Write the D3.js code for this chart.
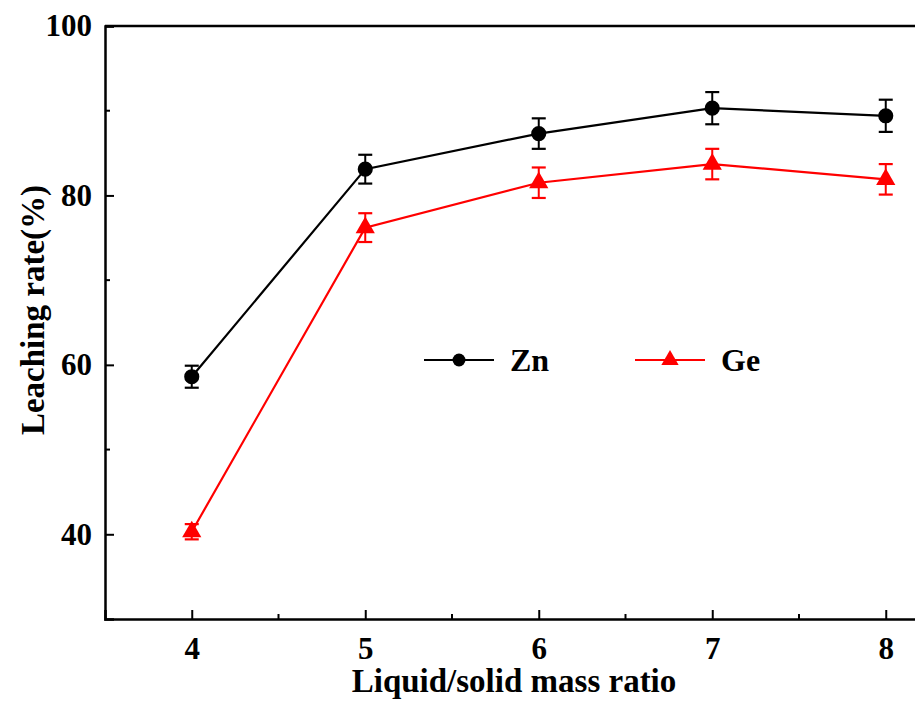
<!DOCTYPE html>
<html>
<head>
<meta charset="utf-8">
<script src="https://cdn.jsdelivr.net/npm/d3@7"></script>
<style>
  body { margin: 0; background: #fff; }
  svg { display: block; }
</style>
</head>
<body>
<div id="chart"></div>
<script>
// data
var ratios = [4, 5, 6, 7, 8];
var znRate = [58.6, 83.1, 87.3, 90.3, 89.4];
var znErr  = [1.3, 1.7, 1.8, 1.9, 1.9];
var geRate = [40.3, 76.2, 81.5, 83.7, 81.9];
var geErr  = [0.9, 1.7, 1.8, 1.8, 1.8];
var yTicks = [40, 60, 80, 100];
var xTicks = [4, 5, 6, 7, 8];

var W = 915, H = 702;
var margin = {top: 26, left: 105, bottom: 82};
var FONT = "'Liberation Serif', 'Times New Roman', serif";

var svg = d3.select("#chart")
  .append("svg")
    .attr("width", W)
    .attr("height", H);

var x = d3.scaleLinear().domain([3.5, 8.5]).range([margin.left, margin.left + 5 * 173.5]);
var y = d3.scaleLinear().domain([30, 100]).range([H - margin.bottom - 1, margin.top]);

function styleText(sel, size) {
  sel.style("font-family", FONT)
    .style("font-weight", "bold")
    .style("font-size", size + "px")
    .attr("fill", "#000");
}

// frame (right side runs off the page)
svg.append("line")
  .attr("x1", x(3.5)).attr("x2", x(8.5))
  .attr("y1", y(100)).attr("y2", y(100))
  .attr("stroke", "#000").attr("stroke-width", 2.5);

// X axis, ticks pointing inward
var xAxis = svg.append("g")
  .attr("transform", "translate(0," + y(30) + ")")
  .call(d3.axisBottom(x).tickValues(xTicks).tickSize(-9).tickFormat(d3.format("d")));
xAxis.select(".domain").attr("stroke-width", 2.5);
xAxis.selectAll(".tick line").attr("stroke-width", 2);
xAxis.selectAll(".tick text")
  .attr("y", 18)
  .call(styleText, 31);
// minor x ticks
xAxis.selectAll(".minor")
  .data([4.5, 5.5, 6.5, 7.5])
  .enter()
  .append("line")
    .attr("x1", function(d) { return x(d); })
    .attr("x2", function(d) { return x(d); })
    .attr("y1", 0).attr("y2", -5)
    .attr("stroke", "#000").attr("stroke-width", 2);

// Y axis
var yAxis = svg.append("g")
  .attr("transform", "translate(" + x(3.5) + ",0)")
  .call(d3.axisLeft(y).tickValues(yTicks).tickSize(-9).tickPadding(13));
yAxis.select(".domain").attr("stroke-width", 2.5);
yAxis.selectAll(".tick line").attr("stroke-width", 2);
yAxis.selectAll(".tick text").call(styleText, 31);
yAxis.selectAll(".minor")
  .data([50, 70, 90])
  .enter()
  .append("line")
    .attr("y1", function(d) { return y(d); })
    .attr("y2", function(d) { return y(d); })
    .attr("x1", 0).attr("x2", 5)
    .attr("stroke", "#000").attr("stroke-width", 2);

// axis titles
svg.append("text")
  .attr("x", 514).attr("y", 692)
  .attr("text-anchor", "middle")
  .call(styleText, 33)
  .text("Liquid/solid mass ratio");

svg.append("text")
  .attr("transform", "translate(44,310)rotate(-90)")
  .attr("text-anchor", "middle")
  .call(styleText, 33)
  .text("Leaching rate(%)");

// series
var series = [
  {name: "Zn", values: znRate, err: znErr, color: "#000", shape: d3.symbolCircle, size: 180},
  {name: "Ge", values: geRate, err: geErr, color: "#f00", shape: d3.symbolTriangle, size: 160}
];

var line = d3.line()
  .x(function(d) { return x(d[0]); })
  .y(function(d) { return y(d[1]); });

series.forEach(function(s) {
  var pts = ratios.map(function(r, i) { return [r, s.values[i], s.err[i]]; });
  var g = svg.append("g");

  g.append("path")
    .attr("d", line(pts))
    .attr("fill", "none")
    .attr("stroke", s.color)
    .attr("stroke-width", 2.2);

  // error bars
  var eb = g.selectAll(".eb").data(pts).enter().append("g");
  eb.append("line")
    .attr("x1", function(d) { return x(d[0]); })
    .attr("x2", function(d) { return x(d[0]); })
    .attr("y1", function(d) { return y(d[1] - d[2]); })
    .attr("y2", function(d) { return y(d[1] + d[2]); })
    .attr("stroke", s.color).attr("stroke-width", 2);
  [-1, 1].forEach(function(sign) {
    eb.append("line")
      .attr("x1", function(d) { return x(d[0]) - 7; })
      .attr("x2", function(d) { return x(d[0]) + 7; })
      .attr("y1", function(d) { return y(d[1] + sign * d[2]); })
      .attr("y2", function(d) { return y(d[1] + sign * d[2]); })
      .attr("stroke", s.color).attr("stroke-width", 2.2);
  });

  g.selectAll(".pt").data(pts).enter()
    .append("path")
      .attr("transform", function(d) { return "translate(" + x(d[0]) + "," + y(d[1]) + ")"; })
      .attr("d", d3.symbol().type(s.shape).size(s.size))
      .attr("fill", s.color);
});

// legend
var legend = [
  {name: "Zn", color: "#000", shape: d3.symbolCircle, size: 130, x: 424},
  {name: "Ge", color: "#f00", shape: d3.symbolTriangle, size: 130, x: 635}
];
var lg = svg.selectAll(".legend").data(legend).enter().append("g")
  .attr("transform", function(d) { return "translate(" + d.x + ",360)"; });
lg.append("line")
  .attr("x1", 0).attr("x2", 70)
  .attr("stroke", function(d) { return d.color; })
  .attr("stroke-width", 2.2);
lg.append("path")
  .attr("transform", "translate(35,0)")
  .attr("d", function(d) { return d3.symbol().type(d.shape).size(d.size)(); })
  .attr("fill", function(d) { return d.color; });
lg.append("text")
  .attr("x", 86).attr("y", 11)
  .call(styleText, 32)
  .text(function(d) { return d.name; });
</script>
</body>
</html>
